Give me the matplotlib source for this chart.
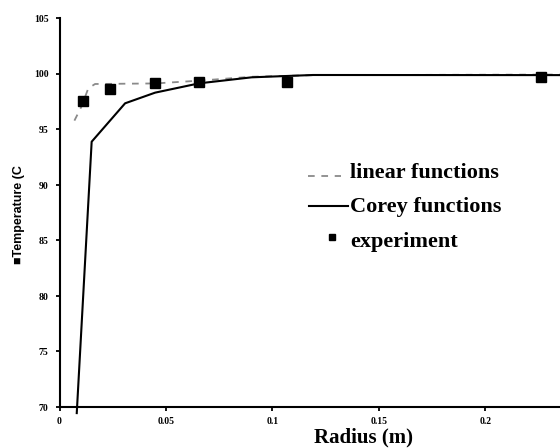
import matplotlib
matplotlib.use("Agg")
import matplotlib.pyplot as plt
from matplotlib.lines import Line2D

# Data
r_corey = [0.0081, 0.0151, 0.0308, 0.0449, 0.0656, 0.0902, 0.119, 0.235]
t_corey = [69.45, 93.9, 97.36, 98.32, 99.16, 99.70, 99.91, 99.90]

r_lin = [0.0070, 0.0104, 0.0135, 0.0167, 0.045, 0.0656, 0.09, 0.12, 0.235]
t_lin = [95.8, 97.1, 98.7, 99.1, 99.15, 99.4, 99.75, 99.9, 99.95]

r_exp = [0.0109, 0.0237, 0.0449, 0.0656, 0.107, 0.226]
t_exp = [97.59, 98.65, 99.16, 99.28, 99.31, 99.76]

xticks = [0, 0.05, 0.1, 0.15, 0.2]
xticklabels = ["0", "0.05", "0.1", "0.15", "0.2"]
yticks = [70, 75, 80, 85, 90, 95, 100, 105]

serif = ["Liberation Serif", "DejaVu Serif"]

fig = plt.figure(figsize=(5.6, 4.48), dpi=100)
ax = fig.add_axes([59.5 / 560, 1 - 407 / 448, 1 - 59.5 / 560, (407 - 18.5) / 448])

ax.plot(r_lin, t_lin, color="#8a8a8a", lw=1.3, linestyle=(0, (3.7, 3.7)), zorder=2)
ax.plot(r_corey, t_corey, color="black", lw=1.5, zorder=3, clip_on=False)
ax.plot(r_exp, t_exp, linestyle="none", marker="s", markersize=7.3,
        color="black", zorder=4, clip_on=False)

ax.set_xlim(0, 0.235)
ax.set_ylim(70, 105)
ax.set_xticks(xticks)
ax.set_xticklabels(xticklabels)
ax.set_yticks(yticks)

for s in ["top", "right"]:
    ax.spines[s].set_visible(False)
for s in ["left", "bottom"]:
    ax.spines[s].set_linewidth(1.5)

ax.tick_params(axis="both", direction="out", length=3, width=1.3, labelsize=7)
ax.tick_params(axis="x", pad=4.5)
ax.tick_params(axis="y", pad=5)
for lab in ax.get_xticklabels() + ax.get_yticklabels():
    lab.set_fontfamily(serif)
    lab.set_fontweight("bold")

fig.text(364 / 560, 1 - 437 / 448, "Radius (m)", fontsize=15, fontweight="bold",
         family=serif, ha="center", va="center")
fig.text(19.5 / 560, 1 - 215 / 448, "\u25a0Temperature (C", fontsize=9,
         fontweight="bold", family=["Liberation Sans", "DejaVu Sans"],
         rotation=90, ha="center", va="center")

# Legend (manual)
def fy(py):
    return 1 - py / 448

fig.add_artist(Line2D([308 / 560, 341 / 560], [fy(175.7), fy(175.7)], color="#8a8a8a",
                      lw=1.3, linestyle=(0, (3.7, 3.7))))
fig.add_artist(Line2D([309 / 560, 348 / 560], [fy(206.5), fy(206.5)], color="black", lw=1.5))
fig.add_artist(Line2D([331.7 / 560], [fy(237)], color="black", marker="s",
                      markersize=4.8, linestyle="none"))
legend_labels = ["linear functions", "Corey functions", "experiment"]
legend_base = [178, 212, 247]
for lab, py in zip(legend_labels, legend_base):
    fig.text(350 / 560, fy(py), lab, fontsize=16, fontweight="bold",
             family=serif, ha="left", va="baseline")

fig.savefig("out.png", dpi=100)
